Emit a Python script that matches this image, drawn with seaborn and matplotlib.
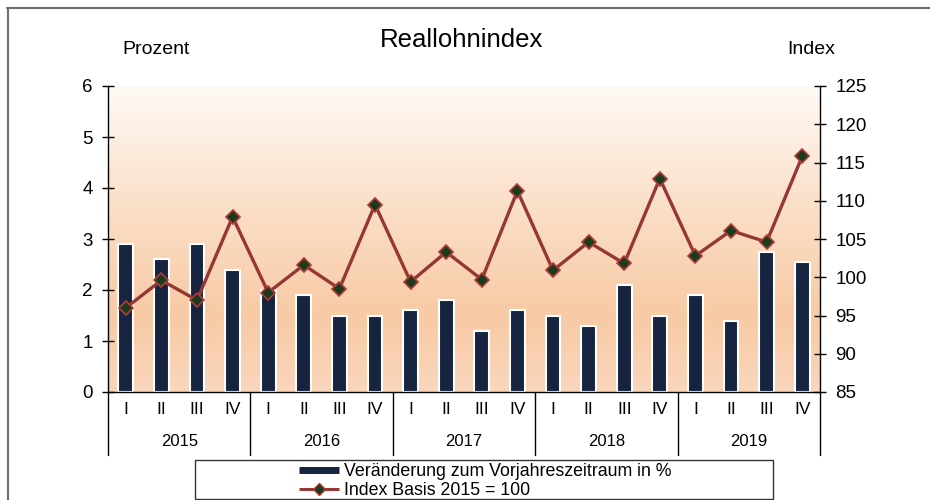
import numpy as np
import pandas as pd
import matplotlib
matplotlib.use("Agg")
import matplotlib.pyplot as plt
import matplotlib.transforms as mtransforms
from matplotlib.colors import LinearSegmentedColormap
from matplotlib.lines import Line2D
from matplotlib.patches import Rectangle
import seaborn as sns

# ---- data ----
years = ["2015", "2016", "2017", "2018", "2019"]
quarters = ["I", "II", "III", "IV"]
change_pct = [2.9, 2.6, 2.9, 2.4,
              2.0, 1.9, 1.5, 1.5,
              1.6, 1.8, 1.2, 1.6,
              1.5, 1.3, 2.1, 1.5,
              1.9, 1.4, 2.75, 2.55]
index_vals = [96.0, 99.6, 97.0, 107.9,
              98.0, 101.6, 98.5, 109.5,
              99.4, 103.3, 99.7, 111.3,
              100.9, 104.6, 101.8, 112.9,
              102.8, 106.1, 104.6, 115.8]
title = "Reallohnindex"
left_label = "Prozent"
right_label = "Index"
bar_label = "Veränderung zum Vorjahreszeitraum in %"
line_label = "Index Basis 2015 = 100"

periods = [f"{y}-{q}" for y in years for q in quarters]
df = pd.DataFrame({"period": periods,
                   "pos": np.arange(len(periods)),
                   "change": change_pct,
                   "index": index_vals})

sns.set_style("white")
plt.rcParams["font.family"] = ["Liberation Sans", "DejaVu Sans"]
plt.rcParams["text.color"] = "black"
plt.rcParams["axes.labelcolor"] = "black"

W, H = 930, 500
fig = plt.figure(figsize=(W / 100, H / 100), dpi=100)
L, R, T, B = 108, 820, 86, 392
ax = fig.add_axes([L / W, 1 - B / H, (R - L) / W, (B - T) / H])

# gradient background (white at top -> peach towards the bottom)
cmap = LinearSegmentedColormap.from_list(
    "bg", [(0.0, "#FFFAF6"), (0.35, "#FBE2CD"), (0.75, "#F8CAA5"), (1.0, "#FAD6BC")])
grad = np.linspace(0, 1, 256).reshape(-1, 1)
ax.imshow(grad, cmap=cmap, aspect="auto", extent=[-0.5, 19.5, 0, 6],
          origin="upper", zorder=0)

navy = "#16243F"
sns.barplot(data=df, x="period", y="change", order=periods, color=navy,
            width=0.42, edgecolor="white", linewidth=1.5, saturation=1,
            ax=ax, zorder=2)
ax.set_xlim(-0.5, 19.5)
ax.set_ylim(0, 6)
ax.set_yticks(range(0, 7))
ax.set_xticks([])
ax.set_xlabel("")
ax.set_ylabel("")

ax2 = ax.twinx()
sns.lineplot(data=df, x="pos", y="index", ax=ax2, color="#953735", lw=2.4,
             marker="D", markersize=7, markerfacecolor="#1C3A1C",
             markeredgecolor="#B03A36", markeredgewidth=1.2, zorder=3)
ax2.set_ylim(85, 125)
ax2.set_yticks(range(85, 126, 5))
ax2.set_xlim(-0.5, 19.5)
ax2.set_xticks([])
ax2.set_xlabel("")
ax2.set_ylabel("")

for a in (ax, ax2):
    for s in a.spines.values():
        s.set_visible(False)
    a.grid(False)
ax.spines["left"].set_visible(True)
ax.spines["bottom"].set_visible(True)
ax2.spines["right"].set_visible(True)
for a, side in ((ax, "left"), (ax2, "right")):
    a.spines[side].set_color("black")
    a.spines[side].set_linewidth(1.0)
ax.spines["bottom"].set_color("black")
ax.spines["bottom"].set_linewidth(1.0)

ax.tick_params(axis="y", direction="inout", length=8, width=1.0, colors="black",
               labelsize=13.5, pad=7.0, left=True)
ax2.tick_params(axis="y", direction="inout", length=8, width=1.0, colors="black",
                labelsize=13.5, pad=7.0, right=True)

# category axis labels
trans = mtransforms.blended_transform_factory(ax.transData, ax.transAxes)
h_ax = B - T
for i, p in enumerate(periods):
    ax.text(i, -(410 - B) / h_ax, quarters[i % 4], transform=trans,
            ha="center", va="center", fontsize=12.5, color="black")
for k, y in enumerate(years):
    ax.text(4 * k + 1.5, -(441 - B) / h_ax, y, transform=trans,
            ha="center", va="center", fontsize=12, color="black")
for k in range(len(years) + 1):
    xb = 4 * k - 0.5
    ax.plot([xb, xb], [0, -(455 - B) / h_ax], transform=trans, color="black",
            lw=1.0, clip_on=False)

# titles
fig.text(462 / W, 1 - 40 / H, title, ha="center", va="center", fontsize=18.5)
fig.text(156 / W, 1 - 50 / H, left_label, ha="center", va="center", fontsize=14)
fig.text(811 / W, 1 - 50 / H, right_label, ha="center", va="center", fontsize=14)

# legend
handles = [Line2D([0], [0], color=navy, lw=5, solid_capstyle="butt"),
           Line2D([0], [0], color="#953735", lw=2.2, marker="D", markersize=6,
                  markerfacecolor="#1C3A1C", markeredgecolor="#B03A36",
                  solid_capstyle="butt")]
fig.legend(handles, [bar_label, line_label], loc="center",
           bbox_to_anchor=(485 / W, 1 - 481 / H), frameon=False, fontsize=12.8,
           handlelength=2.3, handletextpad=0.25, labelspacing=0.12,
           borderpad=0, borderaxespad=0)
fig.patches.append(Rectangle((195 / W, 1 - 499 / H), (773 - 195) / W, 39 / H,
                             transform=fig.transFigure, fill=False,
                             edgecolor="#333333", lw=1.0))

# outer frame (top and left)
fig.add_artist(Line2D([7 / W, 1], [1 - 8 / H, 1 - 8 / H], transform=fig.transFigure,
                      color="#6E6E6E", lw=1.5))
fig.add_artist(Line2D([8 / W, 8 / W], [0, 1 - 8 / H], transform=fig.transFigure,
                      color="#6E6E6E", lw=1.5))

fig.savefig("out.png", dpi=100)
